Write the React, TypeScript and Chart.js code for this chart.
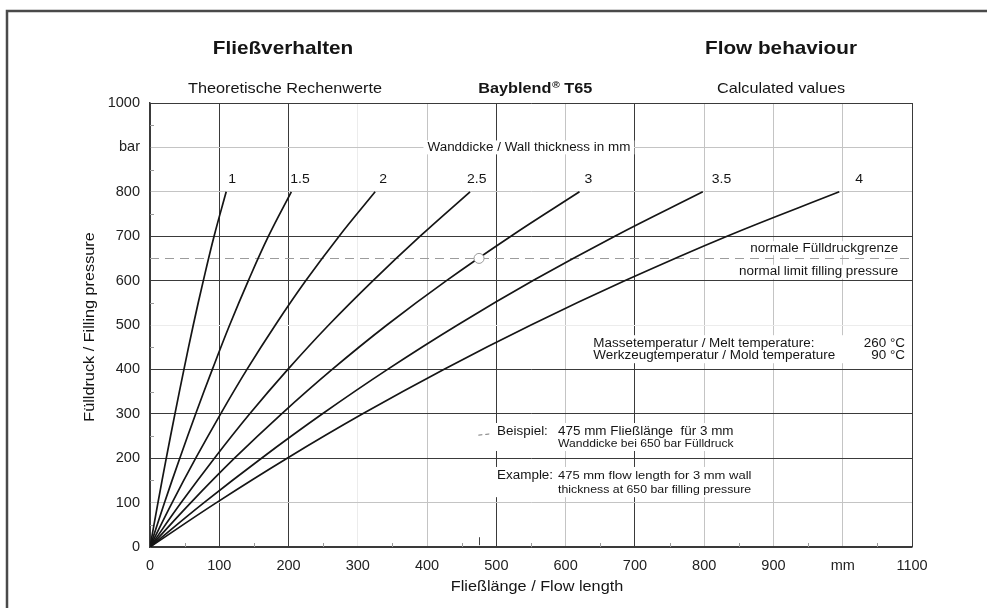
import React, { useEffect, useRef } from 'react';
import { Chart, registerables } from 'chart.js';

Chart.register(...registerables);

// ---------------- data ----------------
const PRESSURE_BAR = [0, 100, 200, 300, 400, 500, 600, 700, 800];
const THICKNESS_LABELS = ['1', '1.5', '2', '2.5', '3', '3.5', '4'];
const LEN_1_0 = [0, 11.5, 23.5, 36, 49, 62.5, 77, 92.5, 110];
const LEN_1_5 = [0, 21, 43, 66, 90, 115, 142, 171, 204];
const LEN_2_0 = [0, 32, 66, 102, 140, 181, 225, 273, 325];
const LEN_2_5 = [0, 45, 93, 144, 199, 258, 322, 390, 462];
const LEN_3_0 = [0, 59, 122, 190, 263, 342, 428, 521, 620];
const LEN_3_5 = [0, 78, 161, 249, 343, 444, 553, 671, 798];
const LEN_4_0 = [0, 96, 198, 307, 424, 550, 686, 833, 995];
const FLOW_LENGTHS = [LEN_1_0, LEN_1_5, LEN_2_0, LEN_2_5, LEN_3_0, LEN_3_5, LEN_4_0];

const X_TICK_LABELS = ['0', '100', '200', '300', '400', '500', '600', '700', '800', '900', 'mm', '1100'];
const Y_TICK_LABELS = ['0', '100', '200', '300', '400', '500', '600', '700', '800', 'bar', '1000'];

const LIMIT_PRESSURE = 650;
const EXAMPLE_LENGTH = 475;
const EXAMPLE_PRESSURE = 650;

// ---------------- styles / layout ----------------
const FONT = '"Liberation Sans", Arial, Helvetica, sans-serif';
const SX = 1.12; // horizontal stretch of the scanned lettering
const INK = '#151515';
const X_DARK = [0, 100, 200, 500, 700, 1100];
const X_FAINT = [300];
const Y_DARK = [0, 200, 300, 400, 600, 700, 1000];
const Y_FAINT = [500];
const LABEL_DX = [2, -1, 4, -3, 5, 9, 16];

function gridColor(value: number, dark: number[], faint: number[]) {
  if (dark.includes(value)) return '#3a3a3a';
  if (faint.includes(value)) return '#ececec';
  return '#c4c4c4';
}

function measure(ctx: CanvasRenderingContext2D, text: string, size: number, bold = false) {
  ctx.font = `${bold ? 'bold ' : ''}${size}px ${FONT}`;
  return ctx.measureText(text).width * SX;
}

function drawText(
  ctx: CanvasRenderingContext2D,
  text: string,
  x: number,
  y: number,
  size: number,
  align: 'left' | 'center' | 'right' = 'left',
  bold = false,
  bg = false,
  color = INK
) {
  ctx.save();
  const w = measure(ctx, text, size, bold);
  const left = align === 'center' ? x - w / 2 : align === 'right' ? x - w : x;
  if (bg) {
    ctx.fillStyle = '#fff';
    ctx.fillRect(left - 4, y - size * 0.58, w + 8, size * 1.16);
  }
  ctx.translate(left, y);
  ctx.scale(SX, 1);
  ctx.textAlign = 'left';
  ctx.textBaseline = 'middle';
  ctx.fillStyle = color;
  ctx.fillText(text, 0, 0);
  ctx.restore();
  return w;
}

const decorPlugin = {
  id: 'decor',
  beforeDraw(chart: any) {
    const { ctx, width, height } = chart;
    ctx.save();
    ctx.fillStyle = '#fff';
    ctx.fillRect(0, 0, width, height);
    ctx.strokeStyle = '#4a4a4a';
    ctx.lineWidth = 2.5;
    ctx.beginPath();
    ctx.moveTo(width, 11);
    ctx.lineTo(7, 11);
    ctx.lineTo(7, height);
    ctx.stroke();
    ctx.restore();
  },
  beforeDatasetsDraw(chart: any) {
    const { ctx, chartArea, scales } = chart;
    const xs = scales.x;
    const ys = scales.y;
    const X = (v: number) => xs.getPixelForValue(v);
    const Y = (v: number) => ys.getPixelForValue(v);

    // minor ticks
    ctx.save();
    ctx.strokeStyle = '#9a9a9a';
    ctx.lineWidth = 1;
    ctx.beginPath();
    for (let v = 50; v < 1100; v += 100) {
      const px = Math.round(X(v)) + 0.5;
      ctx.moveTo(px, chartArea.bottom);
      ctx.lineTo(px, chartArea.bottom - 4);
    }
    for (let v = 50; v < 1000; v += 100) {
      const py = Math.round(Y(v)) + 0.5;
      ctx.moveTo(chartArea.left, py);
      ctx.lineTo(chartArea.left + 4, py);
    }
    ctx.stroke();
    ctx.restore();

    // wall thickness header
    drawText(ctx, 'Wanddicke / Wall thickness in mm', X(547), Y(900), 12, 'center', false, true);

    // limit pressure notes
    drawText(ctx, 'normale Fülldruckgrenze', X(1080), Y(673), 12, 'right', false, true);
    drawText(ctx, 'normal limit filling pressure', X(1080), Y(620), 12, 'right', false, true);

    // temperature block
    {
      const l = X(640);
      const r = X(1090);
      const y1 = Y(459);
      const y2 = Y(432);
      ctx.save();
      ctx.fillStyle = '#fff';
      ctx.fillRect(l - 4, y1 - 8, r - l + 8, y2 - y1 + 16);
      ctx.restore();
      drawText(ctx, 'Massetemperatur / Melt temperature:', l, y1, 12);
      drawText(ctx, '260 °C', r, y1, 12, 'right');
      drawText(ctx, 'Werkzeugtemperatur / Mold temperature', l, y2, 12);
      drawText(ctx, '90 °C', r, y2, 12, 'right');
    }

    // example blocks
    {
      const l = X(501);
      const t = X(589);
      const boxR = X(880);
      ctx.save();
      ctx.fillStyle = '#fff';
      ctx.fillRect(l - 4, Y(259) - 9, boxR - l, Y(232) - Y(259) + 16);
      ctx.fillRect(l - 4, Y(160) - 9, boxR - l, Y(128) - Y(160) + 16);
      ctx.restore();
      drawText(ctx, 'Beispiel:', l, Y(259), 12);
      drawText(ctx, '475 mm Fließlänge  für 3 mm', t, Y(259), 12);
      drawText(ctx, 'Wanddicke bei 650 bar Fülldruck', t, Y(232), 10.8);
      drawText(ctx, 'Example:', l, Y(160), 12);
      drawText(ctx, '475 mm flow length for 3 mm wall', t, Y(160), 11.6);
      drawText(ctx, 'thickness at 650 bar filling pressure', t, Y(128), 11);

      // leader fragments
      ctx.save();
      ctx.strokeStyle = '#777';
      ctx.lineWidth = 1;
      ctx.setLineDash([4, 3]);
      ctx.beginPath();
      ctx.moveTo(X(474), Y(253) + 0.5);
      ctx.lineTo(X(492), Y(256) + 0.5);
      ctx.stroke();
      ctx.setLineDash([]);
      ctx.strokeStyle = '#444';
      ctx.beginPath();
      ctx.moveTo(Math.round(X(EXAMPLE_LENGTH)) + 0.5, Y(4));
      ctx.lineTo(Math.round(X(EXAMPLE_LENGTH)) + 0.5, Y(22));
      ctx.stroke();
      ctx.restore();
    }

    // normal limit filling pressure (dashed)
    ctx.save();
    ctx.strokeStyle = '#9c9c9c';
    ctx.lineWidth = 1;
    ctx.setLineDash([9, 6]);
    ctx.beginPath();
    const ly = Math.round(Y(LIMIT_PRESSURE)) + 0.5;
    ctx.moveTo(chartArea.left, ly);
    ctx.lineTo(chartArea.right, ly);
    ctx.stroke();
    ctx.restore();
  },
  afterDatasetsDraw(chart: any) {
    const { ctx } = chart;
    THICKNESS_LABELS.forEach((lab, k) => {
      const meta = chart.getDatasetMeta(k + 1);
      const last = meta.data[meta.data.length - 1];
      if (!last) return;
      drawText(ctx, lab, last.x + LABEL_DX[k], last.y - 12, 12.5);
    });
  },
  afterDraw(chart: any) {
    const { ctx, chartArea } = chart;
    drawText(ctx, 'Fließverhalten', 283, 49, 18.5, 'center', true);
    drawText(ctx, 'Flow behaviour', 781, 49, 18.5, 'center', true);
    drawText(ctx, 'Theoretische Rechenwerte', 285, 89, 14.5, 'center');
    // "Bayblend® T65" with a raised registered sign
    {
      const a = 'Bayblend';
      const b = '®';
      const c = ' T65';
      const wa = measure(ctx, a, 14.5, true);
      const wb = measure(ctx, b, 9.5, true);
      const wc = measure(ctx, c, 14.5, true);
      let x0 = 535 - (wa + wb + wc) / 2;
      drawText(ctx, a, x0, 89, 14.5, 'left', true);
      x0 += wa + 0.5;
      drawText(ctx, b, x0, 85, 9.5, 'left', true);
      x0 += wb;
      drawText(ctx, c, x0, 89, 14.5, 'left', true);
    }
    drawText(ctx, 'Calculated values', 781, 89, 14.5, 'center');
    // axis titles
    drawText(ctx, 'Fließlänge / Flow length', (chartArea.left + chartArea.right) / 2 + 6, 587, 14.5, 'center');
    ctx.save();
    ctx.translate(90, (chartArea.top + chartArea.bottom) / 2 + 2);
    ctx.rotate(-Math.PI / 2);
    drawText(ctx, 'Fülldruck / Filling pressure', 0, 0, 14.5, 'center');
    ctx.restore();
  },
};

export default function App() {
  const ref = useRef<HTMLCanvasElement | null>(null);
  useEffect(() => {
    if (!ref.current) return;
    const curveSets = THICKNESS_LABELS.map((lab, k) => ({
      type: 'line' as const,
      label: lab + ' mm',
      data: PRESSURE_BAR.map((p, i) => ({ x: FLOW_LENGTHS[k][i], y: p })),
      borderColor: INK,
      borderWidth: 1.7,
      pointRadius: 0,
      tension: 0.4,
      fill: false,
      order: 2,
    }));
    const exampleSet = {
      type: 'scatter' as const,
      label: 'Beispiel',
      data: [{ x: EXAMPLE_LENGTH, y: EXAMPLE_PRESSURE }],
      pointRadius: 5,
      pointBackgroundColor: '#ffffff',
      pointBorderColor: '#9a9a9a',
      pointBorderWidth: 1,
      showLine: false,
      order: 1,
    };
    const chart = new Chart(ref.current, {
      type: 'line',
      data: { datasets: [exampleSet as any, ...curveSets] },
      options: {
        animation: false,
        responsive: false,
        maintainAspectRatio: false,
        devicePixelRatio: 1,
        layout: { padding: { top: 103, right: 75, left: 0, bottom: 0 } },
        plugins: {
          legend: { display: false },
          tooltip: { enabled: false },
          title: { display: false },
        },
        scales: {
          x: {
            type: 'linear',
            position: 'bottom',
            min: 0,
            max: 1100,
            ticks: {
              stepSize: 100,
              autoSkip: false,
              maxRotation: 0,
              padding: 10,
              color: '#222',
              font: { family: FONT, size: 14.5 },
              callback: (v: any) => X_TICK_LABELS[Math.round(Number(v) / 100)] ?? '',
            },
            grid: {
              drawTicks: false,
              lineWidth: 1,
              color: (c: any) => gridColor(c.tick ? c.tick.value : -1, X_DARK, X_FAINT),
            },
            border: { display: true, color: '#3a3a3a', width: 1.5 },
            afterFit: (s: any) => {
              s.height = 61;
            },
          },
          y: {
            type: 'linear',
            min: 0,
            max: 1000,
            ticks: {
              stepSize: 100,
              autoSkip: false,
              padding: 10,
              color: '#222',
              font: { family: FONT, size: 14.5 },
              callback: (v: any) => Y_TICK_LABELS[Math.round(Number(v) / 100)] ?? '',
            },
            grid: {
              drawTicks: false,
              lineWidth: 1,
              color: (c: any) => gridColor(c.tick ? c.tick.value : -1, Y_DARK, Y_FAINT),
            },
            border: { display: true, color: '#3a3a3a', width: 1.5 },
            afterFit: (s: any) => {
              s.width = 150;
            },
          },
        },
      } as any,
      plugins: [decorPlugin],
    });
    return () => chart.destroy();
  }, []);

  return (
    <div style={{ position: 'fixed', left: 0, top: 0, width: 987, height: 608, background: '#fff' }}>
      <canvas ref={ref} width={987} height={608} style={{ display: 'block', width: 987, height: 608 }} />
    </div>
  );
}
